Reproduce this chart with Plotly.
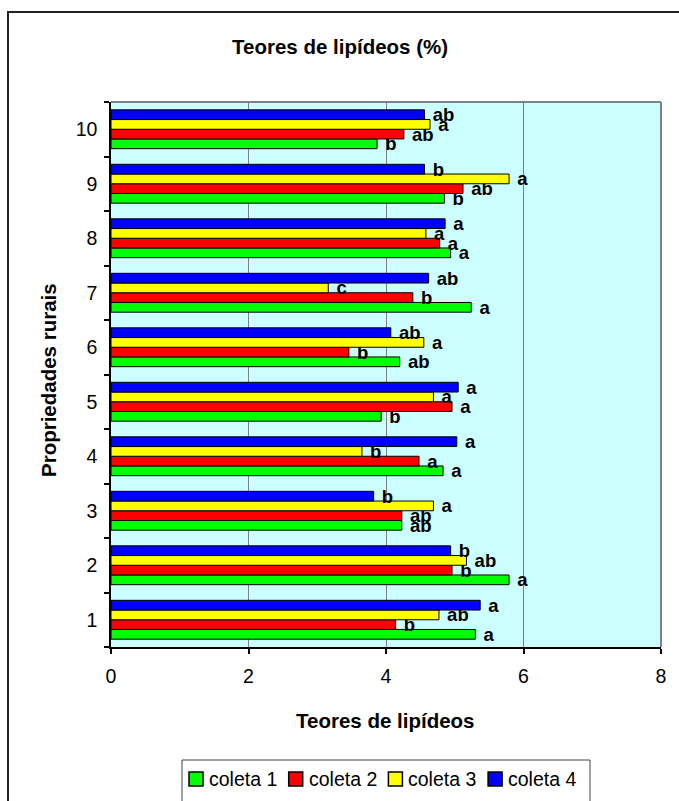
import plotly.graph_objects as go

# Categories (rural properties) and sampling rounds
propriedades = ['1', '2', '3', '4', '5', '6', '7', '8', '9', '10']
series_names = ['coleta 1', 'coleta 2', 'coleta 3', 'coleta 4']
series_colors = ['#00FF00', '#FF0000', '#FFFF00', '#0000FF']

# Lipid content (%) per property, one list per sampling round
coleta_1 = [5.30, 5.79, 4.23, 4.83, 3.93, 4.20, 5.24, 4.94, 4.85, 3.87]
coleta_2 = [4.14, 4.96, 4.23, 4.48, 4.96, 3.46, 4.39, 4.78, 5.12, 4.26]
coleta_3 = [4.77, 5.17, 4.69, 3.65, 4.69, 4.55, 3.16, 4.58, 5.79, 4.64]
coleta_4 = [5.37, 4.94, 3.82, 5.03, 5.05, 4.07, 4.62, 4.86, 4.56, 4.56]

# Significance letters shown next to each bar
letras_1 = ['a', 'a', 'ab', 'a', 'b', 'ab', 'a', 'a', 'b', 'b']
letras_2 = ['b', 'b', 'ab', 'a', 'a', 'b', 'b', 'a', 'ab', 'ab']
letras_3 = ['ab', 'ab', 'a', 'b', 'a', 'a', 'c', 'a', 'a', 'a']
letras_4 = ['a', 'b', 'b', 'a', 'a', 'ab', 'ab', 'a', 'b', 'ab']

x_ticks = [0, 2, 4, 6, 8]

valores = [coleta_1, coleta_2, coleta_3, coleta_4]
letras = [letras_1, letras_2, letras_3, letras_4]

FONT = 'Liberation Sans, Arial, sans-serif'
W, H = 679, 801
L, R, T, B = 111, 18, 102, 154
PW, PH = W - L - R, H - T - B


def px(x):
    return (x - L) / PW


def py(y):
    return (H - B - y) / PH


fig = go.Figure()
for nome, cor, vals, lets in zip(series_names, series_colors, valores, letras):
    fig.add_trace(go.Bar(
        y=propriedades, x=vals, name=nome, orientation='h',
        marker=dict(color=cor, line=dict(color='black', width=1)),
        text=lets, texttemplate='\u00a0%{text}',
        textposition='outside', constraintext='none', cliponaxis=False,
        textfont=dict(family=FONT, size=18.5, color='black', weight='bold'),
        hoverinfo='skip',
    ))

shapes = [
    # outer chart frame
    dict(type='rect', xref='paper', yref='paper',
         x0=px(8), x1=px(700), y0=py(820), y1=py(12),
         line=dict(color='#222222', width=2), layer='above'),
    # plot area top and right edges
    dict(type='line', xref='paper', yref='paper', x0=0, x1=1, y0=1, y1=1,
         line=dict(color='#808080', width=2)),
    dict(type='line', xref='paper', yref='paper', x0=1, x1=1, y0=0, y1=1,
         line=dict(color='#808080', width=2)),
    # legend frame
    dict(type='rect', xref='paper', yref='paper',
         x0=px(182), x1=px(590), y0=py(820), y1=py(760),
         line=dict(color='#404040', width=1)),
]

annotations = [
    dict(text='<b>Teores de lipídeos (%)</b>', xref='paper', yref='paper',
         x=px(340), y=py(46), showarrow=False, xanchor='center', yanchor='middle',
         font=dict(family=FONT, size=20.5, color='black')),
    dict(text='<b>Teores de lipídeos</b>', xref='paper', yref='paper',
         x=px(385), y=py(720), showarrow=False, xanchor='center', yanchor='middle',
         font=dict(family=FONT, size=20.5, color='black')),
    dict(text='<b>Propriedades rurais</b>', xref='paper', yref='paper',
         x=px(49), y=py(380), showarrow=False, textangle=-90,
         xanchor='center', yanchor='middle',
         font=dict(family=FONT, size=20.5, color='black')),
]

# Legend drawn as swatches plus labels in a single row
for i, (nome, cor) in enumerate(zip(series_names, series_colors)):
    sx = 189 + i * 99.7
    shapes.append(dict(type='rect', xref='paper', yref='paper',
                       x0=px(sx), x1=px(sx + 14), y0=py(786), y1=py(772),
                       fillcolor=cor, line=dict(color='black', width=1.5)))
    annotations.append(dict(text=nome, xref='paper', yref='paper',
                            x=px(sx + 18), y=py(779), showarrow=False,
                            xanchor='left', yanchor='middle',
                            font=dict(family=FONT, size=19.5, color='black')))

fig.update_layout(
    width=W, height=H,
    margin=dict(l=L, r=R, t=T, b=B, pad=0),
    paper_bgcolor='white', plot_bgcolor='#CCFFFF',
    barmode='group', bargap=0.287, bargroupgap=0,
    showlegend=False,
    font=dict(family=FONT, color='black'),
    shapes=shapes, annotations=annotations,
)
fig.update_xaxes(
    range=[0, 8], tickvals=x_ticks, ticktext=[str(v) for v in x_ticks],
    showgrid=True, gridcolor='#808080', gridwidth=1, zeroline=False,
    showline=True, linecolor='black', linewidth=1.5,
    ticks='outside', ticklen=5, tickcolor='black', tickwidth=1.5,
    tickfont=dict(family=FONT, size=19.5, color='black'),
    ticklabelstandoff=6,
)
fig.update_yaxes(
    type='category', categoryorder='array', categoryarray=propriedades,
    tickson='boundaries', ticks='outside', ticklen=5, tickcolor='black', tickwidth=1.5,
    showgrid=False, zeroline=False,
    showline=True, linecolor='black', linewidth=1.5,
    tickfont=dict(family=FONT, size=19.5, color='black'),
    ticklabelstandoff=8,
)

fig.write_html('out.html')
